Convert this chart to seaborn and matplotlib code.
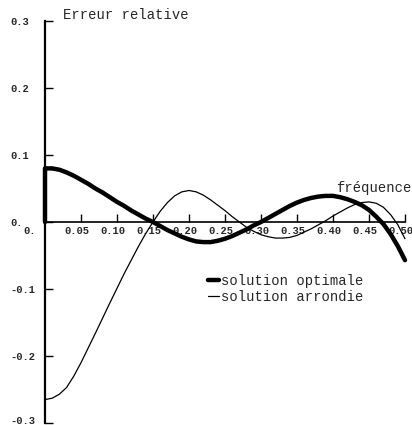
import matplotlib
matplotlib.use("Agg")
import matplotlib.pyplot as plt
import matplotlib.transforms as mtransforms
import seaborn as sns
import pandas as pd

# --- data ---
freq_opt = [0.0, 0.0, 0.01, 0.02, 0.03, 0.04, 0.05, 0.06, 0.07, 0.08, 0.09,
            0.10, 0.11, 0.12, 0.13, 0.14, 0.15, 0.16, 0.17, 0.18, 0.19, 0.20,
            0.21, 0.22, 0.23, 0.24, 0.25, 0.26, 0.27, 0.28, 0.29, 0.30, 0.31,
            0.32, 0.33, 0.34, 0.35, 0.36, 0.37, 0.38, 0.39, 0.40, 0.41, 0.42,
            0.43, 0.44, 0.45, 0.46, 0.47, 0.48, 0.49, 0.50]
err_opt = [0.0, 0.080, 0.080, 0.078, 0.074, 0.069, 0.063, 0.057, 0.050, 0.044,
           0.037, 0.030, 0.024, 0.017, 0.011, 0.005, 0.000, -0.006, -0.012,
           -0.017, -0.022, -0.026, -0.029, -0.030, -0.030, -0.028, -0.025,
           -0.021, -0.016, -0.011, -0.005, 0.000, 0.006, 0.012, 0.018, 0.024,
           0.029, 0.033, 0.036, 0.038, 0.039, 0.039, 0.037, 0.034, 0.030,
           0.025, 0.018, 0.008, -0.003, -0.018, -0.036, -0.057]

freq_arr = [0.0, 0.01, 0.02, 0.03, 0.04, 0.05, 0.07, 0.09, 0.11, 0.13, 0.14,
            0.15, 0.16, 0.17, 0.18, 0.19, 0.20, 0.21, 0.22, 0.23, 0.24, 0.25,
            0.26, 0.27, 0.28, 0.29, 0.30, 0.31, 0.32, 0.33, 0.34, 0.35, 0.36,
            0.37, 0.38, 0.39, 0.40, 0.41, 0.42, 0.43, 0.44, 0.45, 0.46, 0.47,
            0.48, 0.49, 0.50]
err_arr = [-0.265, -0.263, -0.257, -0.247, -0.230, -0.210, -0.166, -0.121,
           -0.077, -0.036, -0.017, 0.000, 0.016, 0.029, 0.039, 0.045, 0.047,
           0.045, 0.040, 0.033, 0.025, 0.017, 0.008, 0.000, -0.008, -0.014,
           -0.019, -0.022, -0.024, -0.024, -0.023, -0.020, -0.015, -0.010,
           -0.004, 0.002, 0.009, 0.015, 0.021, 0.026, 0.029, 0.030, 0.028,
           0.022, 0.011, -0.004, -0.025]

xticks = [0.0, 0.05, 0.10, 0.15, 0.20, 0.25, 0.30, 0.35, 0.40, 0.45, 0.50]
xticklabels = ["0.", "0.05", "0.10", "0.15", "0.20", "0.25", "0.30", "0.35",
               "0.40", "0.45", "0.50"]
yticks = [0.3, 0.2, 0.1, 0.0, -0.1, -0.2, -0.3]
yticklabels = ["0.3", "0.2", "0.1", "0.", "-0.1", "-0.2", "-0.3"]

title_txt = "Erreur relative"
xlabel_txt = "fréquence"
labels = ["solution optimale", "solution arrondie"]

sns.set_style("white")
plt.rcParams["font.family"] = ["Liberation Mono", "DejaVu Sans"]

fig = plt.figure(figsize=(4.12, 4.25), dpi=100)
ax = fig.add_axes([45 / 412, 2 / 425, 360 / 412, 402 / 425])

df_opt = pd.DataFrame({"f": freq_opt, "e": err_opt})
df_arr = pd.DataFrame({"f": freq_arr, "e": err_arr})

sns.lineplot(data=df_opt, x="f", y="e", ax=ax, color="black", lw=3.2,
             sort=False, estimator=None, label=labels[0])
sns.lineplot(data=df_arr, x="f", y="e", ax=ax, color="black", lw=0.9,
             sort=False, estimator=None, label=labels[1])
for ln in ax.lines:
    ln.set_clip_on(False)
    ln.set_solid_joinstyle("round")

ax.set_xlim(0, 0.5)
ax.set_ylim(-0.3, 0.3)
ax.set_xlabel("")
ax.set_ylabel("")

for s in ["top", "right"]:
    ax.spines[s].set_visible(False)
ax.spines["bottom"].set_position(("data", 0))
ax.spines["left"].set_linewidth(1.6)
ax.spines["bottom"].set_linewidth(1.2)
ax.spines["left"].set_color("black")
ax.spines["bottom"].set_color("black")

ax.set_xticks(xticks)
ax.set_xticklabels(xticklabels, fontsize=7.5, fontweight="bold")
ax.set_yticks(yticks)
ax.set_yticklabels(yticklabels, fontsize=7.5, fontweight="bold")
ax.tick_params(axis="x", which="major", bottom=True, direction="in", length=6,
               width=1, pad=3, color="black")
ax.tick_params(axis="y", which="major", left=True, direction="in", length=6,
               width=1, pad=25, color="black")
for i, t in enumerate(ax.get_yticklabels()):
    t.set_horizontalalignment("left")
    if i == len(yticks) - 1:
        t.set_transform(t.get_transform() + mtransforms.ScaledTranslation(0, 3 / 100, fig.dpi_scale_trans))
for i, t in enumerate(ax.get_xticklabels()):
    dx = -15 if i == 0 else -4
    t.set_transform(t.get_transform() + mtransforms.ScaledTranslation(dx / 100, 0, fig.dpi_scale_trans))

ax.text(0.025, 0.309, title_txt, fontsize=10, va="center", ha="left", clip_on=False)
ax.text(0.404, 0.050, xlabel_txt, fontsize=10, va="center", ha="left", clip_on=False)

ax.legend(loc="upper left", bbox_to_anchor=(208 / 412, 1 - 274 / 425),
          bbox_transform=fig.transFigure, frameon=False, handlelength=0.8,
          handletextpad=0.15, borderpad=0, borderaxespad=0, labelspacing=0.15,
          prop={"family": "Liberation Mono", "size": 10})

fig.savefig("out.png", dpi=100)
